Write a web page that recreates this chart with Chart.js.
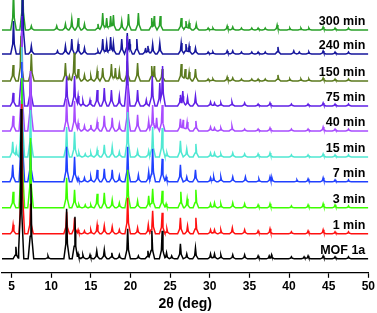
<!DOCTYPE html>
<html>
<head>
<meta charset="utf-8">
<script src="https://cdn.jsdelivr.net/npm/chart.js@4/dist/chart.umd.min.js"></script>
<style>
  body { margin: 0; background: #fff; }
  #box { width: 377px; height: 313px; }
</style>
</head>
<body>
<div id="box"><canvas id="xrd"></canvas></div>
<script>
// Difratogramas empilhados (2θ em graus, intensidade em u.a.)

const seriesLabels = ['MOF 1a', '1 min', '3 min', '7 min', '15 min', '40 min', '75 min', '150 min', '240 min', '300 min'];
const seriesColors = ['#000000', '#ff1010', '#3cff00', '#2040ff', '#4fe8d2', '#a84cff', '#6020e6', '#5b7a1e', '#16169c', '#28a028'];
const offsets = [14, 39, 65, 91, 116, 142, 167, 192, 219, 243];
const xTicks = [5, 10, 15, 20, 25, 30, 35, 40, 45, 50];

// picos [2θ, altura]
const peaksMOF = [[5.55,12],[6.2,150],[7.45,75],[9.6,3],[11.95,50],[13.0,42],[13.4,5],[14.0,4],[14.9,4],[15.75,8],[16.7,9],[17.65,6],[18.6,4],[19.65,30],[21.0,3],[22.2,8],[22.7,28],[24.0,28],[24.55,6],[25.2,3],[26.3,15],[27.1,5],[28.2,11],[30.1,5],[30.6,5],[31.4,4],[32.9,4],[34.4,4],[36.1,3],[37.5,3],[37.8,4],[40.3,2],[41.9,2],[42.4,3],[44.3,3],[45.8,2],[47.5,2]];
const peaks1 = [[5.2,9],[6.3,130],[7.4,30],[11.95,22],[12.95,16],[13.4,4],[14.2,3],[15.0,4],[15.8,9],[16.7,8],[17.7,7],[18.6,4],[19.65,36],[20.9,6],[22.25,9],[22.8,23],[24.0,21],[24.6,5],[26.3,16],[27.2,8],[28.25,16],[30.1,4],[30.6,4],[31.4,4],[32.85,6],[34.4,4],[36.1,3],[37.6,5],[40.3,2],[42.4,3],[44.3,4],[45.8,2],[47.5,2]];
const peaks3 = [[5.2,16],[6.3,130],[7.4,70],[11.95,30],[12.95,18],[13.5,3],[14.3,3],[15.0,3],[15.8,14],[16.7,15],[17.7,8],[18.6,5],[19.65,38],[20.9,7],[22.3,12],[22.8,19],[24.0,17],[24.5,4],[26.35,16],[27.15,9],[28.25,18],[30.1,4],[30.6,5],[31.4,4],[32.9,5],[34.4,4],[36.1,3],[37.6,4],[40.3,2],[42.4,3],[44.3,4],[45.8,3],[47.5,2]];
const peaks7 = [[5.15,17],[6.3,120],[7.4,40],[11.95,35],[12.95,25],[13.4,4],[14.2,4],[15.0,5],[15.8,12],[16.7,13],[17.7,12],[18.6,6],[19.65,35],[21.0,7],[22.3,10],[22.8,33],[24.0,23],[24.5,5],[26.3,17],[27.1,5],[28.2,12],[30.1,4],[30.5,5],[31.4,5],[32.9,5],[34.5,5],[36.2,3],[37.6,5],[37.85,4],[41.0,2],[42.4,3],[44.3,4],[45.8,2],[47.5,2]];
const peaks15 = [[5.15,15],[5.6,8],[6.3,110],[7.4,47],[11.95,30],[12.95,25],[13.5,4],[14.3,3],[15.0,4],[15.8,7],[16.7,12],[17.7,10],[18.6,5],[19.65,45],[20.9,6],[22.3,6],[22.8,30],[24.0,29],[24.6,4],[26.3,16],[27.1,8],[28.25,13],[30.1,4],[30.6,4],[31.4,3],[32.9,4],[34.4,3],[36.1,3],[37.6,4],[40.3,2],[42.4,2],[44.3,3],[45.8,2],[47.5,2]];
const peaks40 = [[5.2,15],[6.3,100],[7.4,60],[11.95,32],[12.95,30],[13.4,8],[14.2,5],[15.0,6],[15.8,9],[16.7,15],[17.7,13],[18.6,7],[19.65,45],[20.9,16],[22.3,10],[22.8,26],[23.3,13],[24.0,26],[26.3,12],[26.65,11],[27.15,9],[28.25,10],[30.1,4],[30.6,3],[31.4,3],[32.8,5],[34.4,2],[36.1,2],[37.6,3],[40.3,2],[42.4,2],[44.3,4],[45.8,2],[47.5,2]];
const peaks75 = [[5.2,13],[6.3,90],[7.4,35],[11.95,30],[12.95,30],[13.4,10],[14.0,5],[14.9,6],[15.8,16],[16.7,18],[17.6,16],[18.6,10],[19.6,70],[20.9,16],[22.0,6],[22.75,30],[23.7,23],[24.05,40],[26.3,11],[26.6,15],[27.2,8],[28.2,10],[30.1,4],[30.6,3],[31.4,3],[32.8,4],[34.4,3],[36.1,2],[37.6,3],[40.3,2],[42.4,2],[44.3,3],[45.8,2],[47.5,2]];
const peaks150 = [[5.2,16],[6.2,45],[7.5,27],[11.8,18],[12.3,5],[12.9,28],[13.4,12],[14.2,6],[15.0,5],[15.8,10],[16.5,13],[17.6,17],[18.1,13],[18.6,10],[19.6,20],[20.9,18],[22.7,15],[23.0,15],[24.0,12],[26.4,17],[26.9,12],[27.4,9],[28.2,12],[29.8,2],[30.4,2],[32.2,4],[32.9,3],[34.0,2],[35.3,2],[36.1,2],[37.0,2],[38.6,6],[40.1,2],[41.5,2],[42.5,2],[44.3,3],[45.8,2],[47.5,2]];
const peaks240 = [[5.25,33],[6.4,80],[7.5,8],[10.8,3],[11.8,8],[12.6,15],[13.4,10],[14.2,6],[15.9,3],[16.5,15],[17.0,11],[17.5,17],[17.85,11],[18.9,15],[19.6,21],[19.9,15],[20.8,15],[21.9,6],[22.2,8],[22.8,10],[23.7,11],[26.4,11],[27.0,10],[27.4,8],[28.2,6],[29.8,2],[30.4,2],[32.2,3],[32.9,3],[34.0,2],[35.3,2],[36.1,2],[37.0,2],[38.6,7],[40.6,3],[41.3,2],[42.5,2],[44.3,3],[45.8,2],[47.5,2]];
const peaks300 = [[5.25,40],[6.4,60],[7.5,4],[10.7,4],[11.8,6],[12.6,11],[13.4,12],[14.2,6],[15.9,6],[16.5,17],[17.0,12],[17.5,14],[17.85,15],[18.9,9],[19.75,16],[21.0,17],[22.7,12],[23.0,14],[23.75,14],[26.4,12],[27.0,9],[27.4,7],[28.3,6],[29.8,2],[30.4,2],[32.2,4],[32.9,3],[34.0,2],[35.3,2],[36.1,2],[37.0,2],[38.5,5],[40.1,2],[41.5,2],[42.5,2],[44.3,3],[45.8,2],[47.5,2]];

const allPeaks = [peaksMOF, peaks1, peaks3, peaks7, peaks15, peaks40, peaks75, peaks150, peaks240, peaks300];

const xMin = 3.8, xMax = 50;

// forma do pico: topo estreito, base larga (em graus de 2θ)
function shape(dx) {
  const a = Math.abs(dx);
  if (a <= 0.1) return 1 - 7 * a;
  if (a <= 0.35) return 0.3 * (0.35 - a) / 0.25;
  return 0;
}

function profile(peaks, base) {
  const xs = [xMin, xMax];
  peaks.forEach(([t]) => xs.push(t - 0.35, t - 0.1, t, t + 0.1, t + 0.35));
  xs.sort((a, b) => a - b);
  return xs.map(x => ({
    x: x,
    y: base + Math.max(0, ...peaks.map(([t, h]) => h * shape(x - t)))
  }));
}

const dataXRD = {
  datasets: seriesLabels.map((lab, i) => ({
    label: lab,
    data: profile(allPeaks[i], offsets[i]),
    borderColor: seriesColors[i],
    borderWidth: 1.5,
    pointRadius: 0,
    tension: 0,
    fill: false
  }))
};

// rótulos à direita de cada curva
const curveLabels = {
  id: 'curveLabels',
  afterDatasetsDraw(chart) {
    const { ctx, chartArea, scales } = chart;
    ctx.save();
    ctx.font = 'bold 12.5px "Liberation Sans", Arial, sans-serif';
    ctx.fillStyle = '#000';
    ctx.textAlign = 'right';
    ctx.textBaseline = 'middle';
    seriesLabels.forEach((lab, i) => {
      ctx.fillText(lab, chartArea.right - 3, scales.y.getPixelForValue(offsets[i] + 8));
    });
    ctx.restore();
  }
};

const optionsXRD = {
  responsive: true,
  maintainAspectRatio: false,
  animation: false,
  layout: { padding: { left: 2, right: 8, top: 0, bottom: 0 } },
  scales: {
    x: {
      type: 'linear',
      min: xMin,
      max: xMax,
      afterBuildTicks: (scale) => { scale.ticks = xTicks.map(v => ({ value: v })); },
      grid: { drawOnChartArea: false, drawTicks: true, tickLength: 5, color: '#000', tickWidth: 1.2 },
      border: { display: true, color: '#000', width: 1.3 },
      ticks: {
        color: '#000',
        padding: 2,
        maxRotation: 0,
        font: { family: '"Liberation Sans", Arial, sans-serif', size: 12, weight: 'bold' }
      },
      title: {
        display: true,
        text: '2θ (deg)',
        color: '#000',
        padding: { top: 0, bottom: 0 },
        font: { family: '"Liberation Sans", Arial, sans-serif', size: 14, weight: 'bold' }
      }
    },
    y: {
      display: false,
      min: 0,
      max: 273
    }
  },
  plugins: {
    legend: { display: false },
    tooltip: { enabled: false }
  }
};

const ctxXRD = document.getElementById('xrd').getContext('2d');
const myChartXRD = new Chart(ctxXRD, {
  type: 'line',
  data: dataXRD,
  options: optionsXRD,
  plugins: [curveLabels]
});
</script>
</body>
</html>
